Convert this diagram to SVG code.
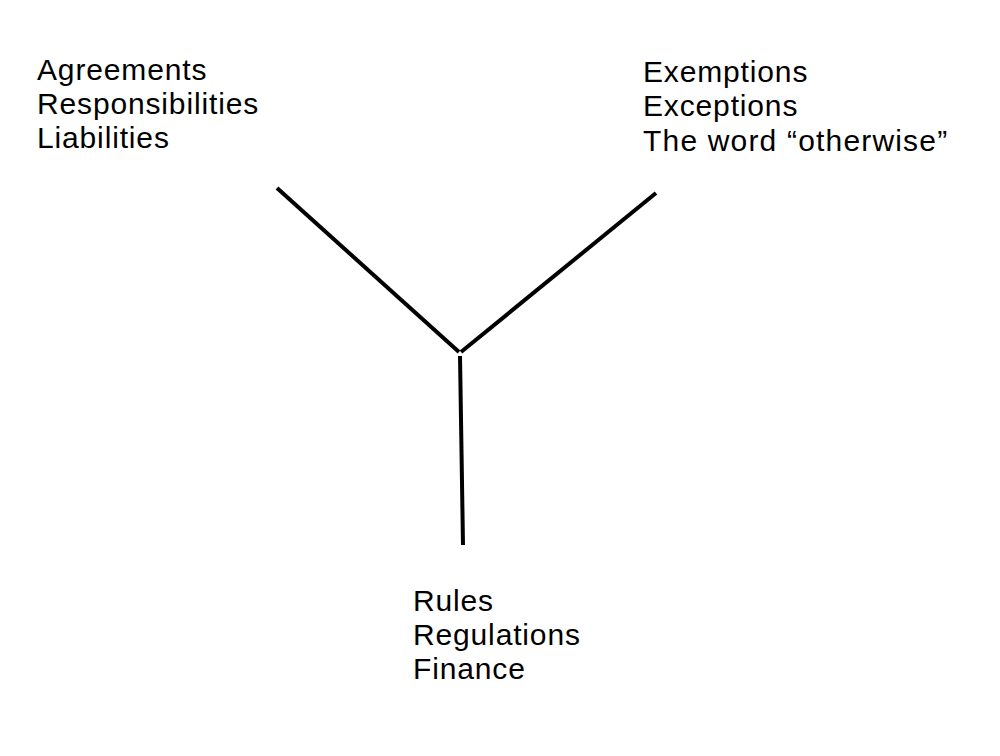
<svg xmlns="http://www.w3.org/2000/svg" width="1000" height="756" viewBox="0 0 1000 756">
<style>
.t{font-family:"Liberation Sans",Arial,sans-serif;font-size:30px;fill:#000;letter-spacing:0.85px}
.c{stroke:#000;stroke-width:4;fill:none}
</style>
<rect width="1000" height="756" fill="#fff"/>
<g id="node-left">
<text class="t" x="37" y="80">Agreements</text>
<text class="t" x="37" y="114">Responsibilities</text>
<text class="t" x="37" y="148">Liabilities</text>
</g>
<g id="node-right">
<text class="t" x="643" y="82">Exemptions</text>
<text class="t" x="643" y="116">Exceptions</text>
<text class="t" x="643" y="151" textLength="305" lengthAdjust="spacing">The word “otherwise”</text>
</g>
<g id="node-bottom">
<text class="t" x="413" y="611">Rules</text>
<text class="t" x="413" y="645">Regulations</text>
<text class="t" x="413" y="679">Finance</text>
</g>
<g id="connectors">
<line class="c" x1="277" y1="188" x2="459" y2="352"/>
<line class="c" x1="656" y1="193" x2="461" y2="352"/>
<line class="c" x1="460" y1="356" x2="463" y2="545"/>
</g>
</svg>
